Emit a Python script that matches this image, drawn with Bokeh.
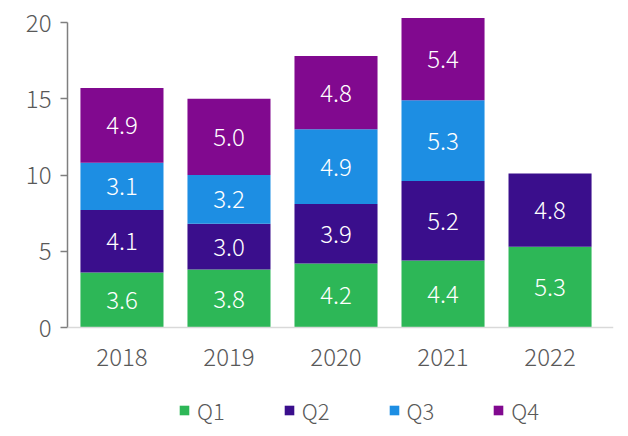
import numpy as np
from bokeh.plotting import figure
from bokeh.models import (Range1d, FixedTicker, ColumnDataSource, Legend, LegendItem, Span)
from bokeh.core.properties import value
from bokeh.embed import file_html
from bokeh.resources import INLINE

years = ["2018", "2019", "2020", "2021", "2022"]
q1 = [3.6, 3.8, 4.2, 4.4, 5.3]
q2 = [4.1, 3.0, 3.9, 5.2, 4.8]
q3 = [3.1, 3.2, 4.9, 5.3, 0.0]
q4 = [4.9, 5.0, 4.8, 5.4, 0.0]
series = ["Q1", "Q2", "Q3", "Q4"]
colors = ["#2db757", "#3a0e8c", "#1d8ee3", "#81098f"]

FONT = "Noto Sans CJK JP Light, Noto Sans CJK JP"
x = list(range(len(years)))
data = {"x": x, "Q1": q1, "Q2": q2, "Q3": q3, "Q4": q4}
src = ColumnDataSource(data)

PX = 15.25  # pixels per unit
p = figure(width=620, height=428, output_backend="svg", toolbar_location=None,
           x_range=Range1d(-0.509, 4.593), y_range=Range1d(-101 / PX, 310 / PX),
           x_axis_location=None,
           min_border_left=67, min_border_right=7, min_border_top=17, min_border_bottom=0)
p.outline_line_color = None
p.grid.visible = False
p.background_fill_color = "white"
p.border_fill_color = "white"

renderers = p.vbar_stack(series, x="x", width=0.776, color=colors, source=src, line_color=None)

# x axis line and category labels
p.add_layout(Span(location=0, dimension="width", line_color="#d9d9d9", line_width=1.5))
p.text(x=x, y=[0] * len(x), text=years, y_offset=29, text_align="center",
       text_baseline="middle", text_color="#595959", text_font=value(FONT),
       text_font_size="24px")

# segment labels
vals = np.array([q1, q2, q3, q4])
cum = np.cumsum(vals, axis=0)
mid = cum - vals / 2
lx, ly, lt = [], [], []
for i, s in enumerate(series):
    for j in range(len(years)):
        if vals[i, j] > 0:
            lx.append(x[j]); ly.append(mid[i, j]); lt.append(f"{vals[i, j]:.1f}")
p.text(x=lx, y=ly, text=lt, text_align="center", text_baseline="middle",
       text_color="white", text_font=value(FONT), text_font_size="24px")

ya = p.yaxis[0]
ya.ticker = FixedTicker(ticks=[0, 5, 10, 15, 20])
ya.bounds = (0, 20)
ya.minor_tick_line_color = None
ya.axis_line_color = "#7f7f7f"
ya.axis_line_width = 1.5
ya.major_tick_line_color = "#7f7f7f"
ya.major_tick_line_width = 1.5
ya.major_tick_in = 0
ya.major_tick_out = 7
ya.major_label_text_font = FONT
ya.major_label_text_font_size = "24px"
ya.major_label_text_color = "#595959"
ya.major_label_standoff = 9

legend = Legend(items=[LegendItem(label=s, renderers=[r]) for s, r in zip(series, renderers)],
                orientation="horizontal", location=(111, 2),
                label_text_font=FONT, label_text_font_size="22px",
                label_text_color="#595959", glyph_width=12, glyph_height=12,
                label_standoff=7, spacing=58, border_line_color=None,
                background_fill_alpha=0, margin=0, padding=0)
p.add_layout(legend, "center")

open("out.html", "w").write(file_html(p, INLINE))
